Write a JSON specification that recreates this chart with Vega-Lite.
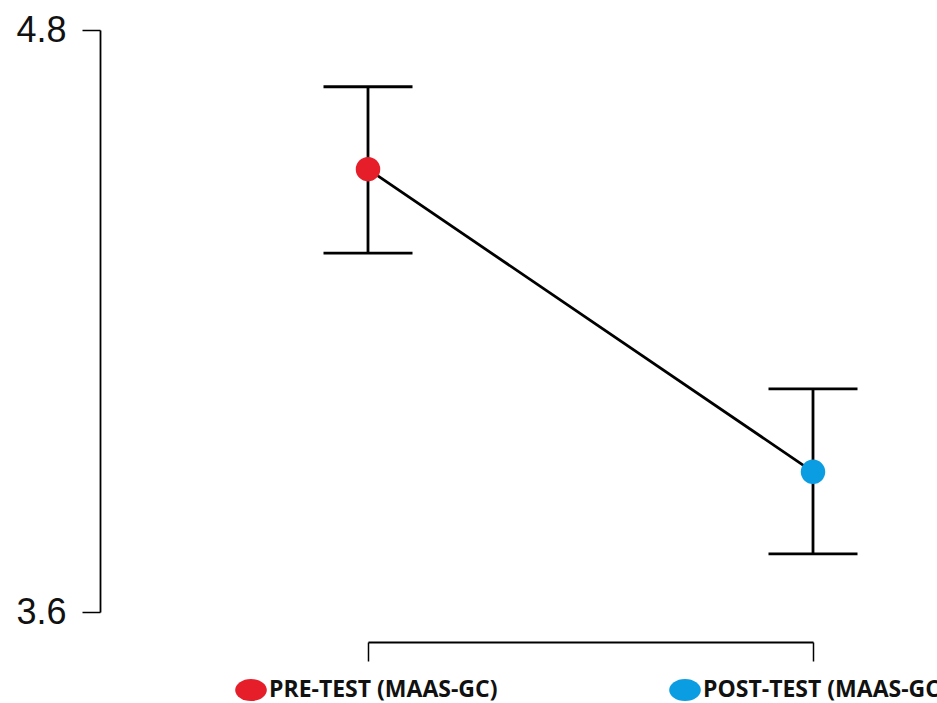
{
  "$schema": "https://vega.github.io/schema/vega-lite/v6.json",
  "autosize": {"type": "none"},
  "width": 445,
  "height": 582,
  "padding": {"left": 368, "top": 30, "right": 124, "bottom": 91},
  "background": "white",
  "config": {"view": {"stroke": null}},
  "data": {
    "values": [
      {"test": "PRE-TEST (MAAS-GC)", "x": 1, "mean": 4.513, "lo": 4.340, "hi": 4.683},
      {"test": "POST-TEST (MAAS-GC)", "x": 2, "mean": 3.889, "lo": 3.720, "hi": 4.060}
    ]
  },
  "encoding": {
    "x": {
      "field": "x", "type": "quantitative",
      "scale": {"domain": [1, 2], "nice": false, "zero": false},
      "axis": {
        "title": null, "values": [1, 2], "labels": false, "grid": false,
        "offset": 30, "tickSize": 19, "tickWidth": 1.5, "tickColor": "#000",
        "domainColor": "#000", "domainWidth": 1.8
      }
    }
  },
  "layer": [
    {
      "mark": {"type": "rule", "color": "#000", "strokeWidth": 2.8},
      "encoding": {
        "y": {
          "field": "lo", "type": "quantitative",
          "scale": {"domain": [3.6, 4.8], "nice": false, "zero": false},
          "axis": {
            "title": null, "values": [3.6, 4.8], "format": ".1f", "grid": false,
            "offset": 268, "tickSize": 18, "tickWidth": 1.5, "tickColor": "#000",
            "domainColor": "#000", "domainWidth": 1.8,
            "labelFont": "Liberation Sans", "labelFontSize": 36, "labelColor": "#111",
            "labelPadding": 16, "labelBaseline": "middle"
          }
        },
        "y2": {"field": "hi"}
      }
    },
    {
      "mark": {"type": "tick", "orient": "horizontal", "size": 89, "thickness": 2.8, "color": "#000", "opacity": 1},
      "encoding": {"y": {"field": "lo", "type": "quantitative"}}
    },
    {
      "mark": {"type": "tick", "orient": "horizontal", "size": 89, "thickness": 2.8, "color": "#000", "opacity": 1},
      "encoding": {"y": {"field": "hi", "type": "quantitative"}}
    },
    {
      "mark": {"type": "line", "color": "#000", "strokeWidth": 2.8},
      "encoding": {"y": {"field": "mean", "type": "quantitative"}}
    },
    {
      "mark": {"type": "circle", "size": 600, "opacity": 1},
      "encoding": {
        "y": {"field": "mean", "type": "quantitative"},
        "color": {
          "field": "test", "type": "nominal",
          "scale": {"domain": ["PRE-TEST (MAAS-GC)", "POST-TEST (MAAS-GC)"], "range": ["#E61E2A", "#0B9DE2"]},
          "legend": {
            "title": null, "orient": "none", "direction": "horizontal",
            "legendX": -133, "legendY": 644,
            "symbolType": "M-1,0A1,0.7,0,1,0,1,0A1,0.7,0,1,0,-1,0Z", "symbolSize": 1000, "symbolStrokeWidth": 0, "symbolOpacity": 1,
            "labelFont": "Open Sans", "labelFontSize": 23, "labelFontWeight": "bold", "labelColor": "#111",
            "labelLimit": 500, "labelOffset": 2, "columnPadding": 171
          }
        }
      }
    }
  ]
}
